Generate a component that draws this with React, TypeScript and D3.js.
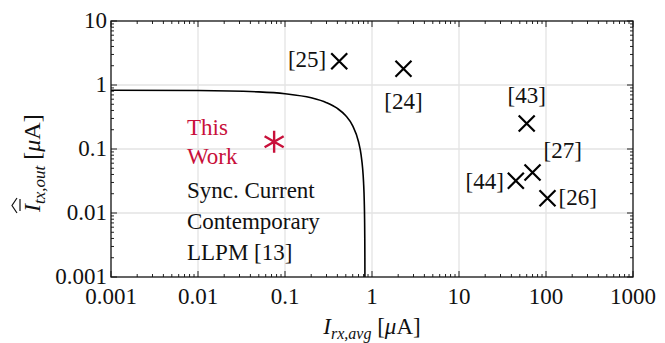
import React from "react";
import * as d3 from "d3";

const W = 665;
const H = 343;

const xTicks = [0.001, 0.01, 0.1, 1, 10, 100, 1000];
const xTickLabels = ["0.001", "0.01", "0.1", "1", "10", "100", "1000"];
const yTicks = [0.001, 0.01, 0.1, 1, 10];
const yTickLabels = ["0.001", "0.01", "0.1", "1", "10"];

// Sync. current contemporary LLPM [13] curve
const curveX = [0.001, 0.01, 0.05, 0.1, 0.2, 0.3, 0.4, 0.5, 0.6, 0.7, 0.75, 0.78, 0.8, 0.815, 0.822, 0.826, 0.828, 0.829];
const curveY = [0.829, 0.82, 0.78, 0.73, 0.63, 0.53, 0.43, 0.33, 0.23, 0.13, 0.08, 0.05, 0.03, 0.015, 0.008, 0.004, 0.002, 0.001];

// Reference works
const refNames = ["[25]", "[24]", "[43]", "[27]", "[44]", "[26]"];
const refX = [0.42, 2.3, 60, 70, 45, 104];
const refY = [2.35, 1.8, 0.25, 0.043, 0.032, 0.017];
const refLabelDx = [-13, 0, 0, 11, -12, 11];
const refLabelDy = [-1, 33, -28, -21, 1, 0];
const refAnchor = ["end", "middle", "middle", "start", "end", "start"];

// This work
const thisX = [0.075];
const thisY = [0.13];

const RED = "#c8103a";
const FS = 23;

const css = `
.ct { font-family: "Liberation Serif", "Times New Roman", Times, serif !important; }
`;

export default function App() {
  const left = 111, right = 633, top = 21, bottom = 277;
  const x = d3.scaleLog().domain([0.001, 1000]).range([left, right]);
  const y = d3.scaleLog().domain([0.001, 10]).range([bottom, top]);

  const minorX: number[] = [];
  for (let e = -3; e < 3; e++) for (let k = 2; k <= 9; k++) minorX.push(k * Math.pow(10, e));
  const minorY: number[] = [];
  for (let e = -3; e < 1; e++) for (let k = 2; k <= 9; k++) minorY.push(k * Math.pow(10, e));

  const pts = curveX.map((v, i) => [v, curveY[i]] as [number, number]);
  const line = d3
    .line<[number, number]>()
    .x((d) => x(d[0]))
    .y((d) => y(d[1]))
    .curve(d3.curveMonotoneX);

  const majLen = 6, minLen = 3;
  const cs = 8;

  return (
    <div style={{ fontFamily: "Liberation Serif, serif" }}>
      <style>{css}</style>
      <svg className="ct" width={W} height={H} style={{ position: "absolute", left: 0, top: 0, background: "#fff" }}>
        {xTicks.slice(1, -1).map((t) => (
          <line key={"gx" + t} x1={x(t)} x2={x(t)} y1={top} y2={bottom} stroke="#e3e3e3" strokeWidth={1.3} />
        ))}
        {yTicks.slice(1, -1).map((t) => (
          <line key={"gy" + t} y1={y(t)} y2={y(t)} x1={left} x2={right} stroke="#e3e3e3" strokeWidth={1.3} />
        ))}
        {xTicks.map((t) => (
          <g key={"tx" + t}>
            <line x1={x(t)} x2={x(t)} y1={bottom} y2={bottom - majLen} stroke="#222" />
            <line x1={x(t)} x2={x(t)} y1={top} y2={top + majLen} stroke="#222" />
          </g>
        ))}
        {minorX.map((t) => (
          <g key={"mx" + t}>
            <line x1={x(t)} x2={x(t)} y1={bottom} y2={bottom - minLen} stroke="#222" />
            <line x1={x(t)} x2={x(t)} y1={top} y2={top + minLen} stroke="#222" />
          </g>
        ))}
        {yTicks.map((t) => (
          <g key={"ty" + t}>
            <line y1={y(t)} y2={y(t)} x1={left} x2={left + majLen} stroke="#222" />
            <line y1={y(t)} y2={y(t)} x1={right} x2={right - majLen} stroke="#222" />
          </g>
        ))}
        {minorY.map((t) => (
          <g key={"my" + t}>
            <line y1={y(t)} y2={y(t)} x1={left} x2={left + minLen} stroke="#222" />
            <line y1={y(t)} y2={y(t)} x1={right} x2={right - minLen} stroke="#222" />
          </g>
        ))}
        <path d={line(pts) || ""} fill="none" stroke="#000" strokeWidth={1.6} />
        <rect x={left} y={top} width={right - left} height={bottom - top} fill="none" stroke="#111" strokeWidth={1.3} />
        {xTicks.map((t, i) => (
          <text className="ct" key={"xl" + t} x={x(t)} y={bottom + 27} textAnchor="middle" fontSize={FS} fill="#111">
            {xTickLabels[i]}
          </text>
        ))}
        {yTicks.map((t, i) => (
          <text className="ct" key={"yl" + t} x={left - 4} y={y(t) + 7} textAnchor="end" fontSize={FS} fill="#111">
            {yTickLabels[i]}
          </text>
        ))}
        {refX.map((v, i) => {
          const cx = x(v), cy = y(refY[i]);
          return (
            <g key={"r" + i}>
              <path d={`M${cx - cs},${cy - cs}L${cx + cs},${cy + cs}M${cx - cs},${cy + cs}L${cx + cs},${cy - cs}`} stroke="#000" strokeWidth={2.2} />
              <text className="ct" x={cx + refLabelDx[i]} y={cy + refLabelDy[i] + 7} textAnchor={refAnchor[i] as any} fontSize={FS} fill="#111">
                {refNames[i]}
              </text>
            </g>
          );
        })}
        {thisX.map((v, i) => {
          const cx = x(v), cy = y(thisY[i]);
          const r = 11;
          const d = [0, 60, 120]
            .map((a) => {
              const rad = (a * Math.PI) / 180;
              return `M${cx - r * Math.sin(rad)},${cy - r * Math.cos(rad)}L${cx + r * Math.sin(rad)},${cy + r * Math.cos(rad)}`;
            })
            .join("");
          return <path key={"tw" + i} d={d} stroke={RED} strokeWidth={2.4} />;
        })}
        <text className="ct" x={187} y={135} fontSize={FS} fill={RED}>This</text>
        <text className="ct" x={187} y={164} fontSize={FS} fill={RED}>Work</text>
        <text className="ct" x={187} y={198} fontSize={FS} fill="#111">Sync.  Current</text>
        <text className="ct" x={187} y={229} fontSize={FS} fill="#111">Contemporary</text>
        <text className="ct" x={187} y={260} fontSize={FS} fill="#111">LLPM [13]</text>
        <text className="ct" x={372} y={334} textAnchor="middle" fontSize={FS} fill="#111">
          <tspan fontStyle="italic">I</tspan>
          <tspan fontStyle="italic" fontSize={16} dy={5}>rx,avg</tspan>
          <tspan dy={-5}>{"  ["}</tspan>
          <tspan fontStyle="italic">μ</tspan>
          <tspan>A]</tspan>
        </text>
        <g transform="translate(40,212) rotate(-90)">
          <text className="ct" x={0} y={0} fontSize={24} fill="#111">
            <tspan fontStyle="italic">I</tspan>
            <tspan fontStyle="italic" fontSize={17} dy={5}>tx,out</tspan>
            <tspan dy={-5}>{"  ["}</tspan>
            <tspan fontStyle="italic">μ</tspan>
            <tspan>A]</tspan>
          </text>
          <line x1={1} x2={13} y1={-20} y2={-20} stroke="#111" strokeWidth={1.2} />
          <path d="M-1,-23 L6.5,-28 L14,-23" fill="none" stroke="#111" strokeWidth={1.2} />
        </g>
      </svg>
    </div>
  );
}
